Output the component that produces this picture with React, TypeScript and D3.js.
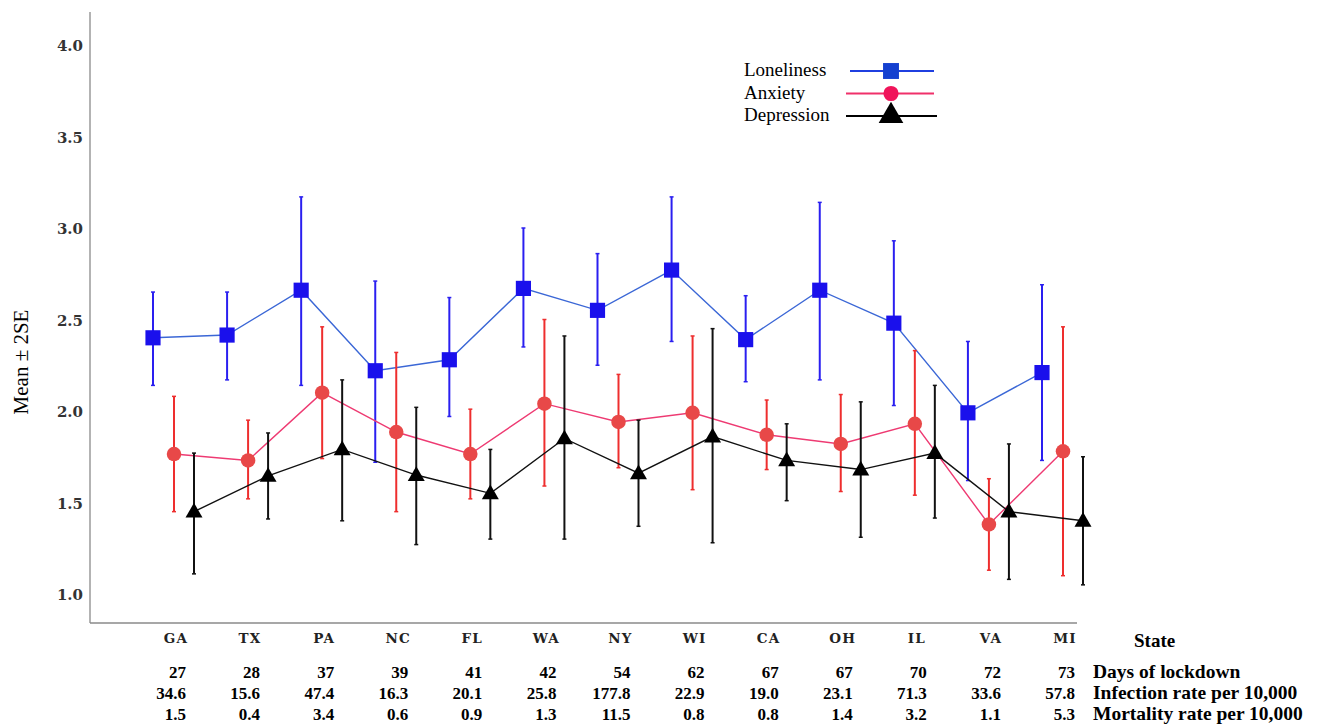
import React, { useRef, useEffect } from 'react';
import * as d3 from 'd3';

// chart values
const states = ['GA', 'TX', 'PA', 'NC', 'FL', 'WA', 'NY', 'WI', 'CA', 'OH', 'IL', 'VA', 'MI'];

const lonelinessMean = [2.40, 2.415, 2.66, 2.22, 2.28, 2.67, 2.55, 2.77, 2.39, 2.66, 2.48, 1.99, 2.21];
const lonelinessLo = [2.14, 2.17, 2.14, 1.72, 1.97, 2.35, 2.25, 2.38, 2.16, 2.17, 2.03, 1.62, 1.73];
const lonelinessHi = [2.65, 2.65, 3.17, 2.71, 2.62, 3.00, 2.86, 3.17, 2.63, 3.14, 2.93, 2.38, 2.69];

const anxietyMean = [1.765, 1.73, 2.10, 1.885, 1.765, 2.04, 1.94, 1.99, 1.87, 1.82, 1.93, 1.38, 1.78];
const anxietyLo = [1.45, 1.52, 1.74, 1.45, 1.52, 1.59, 1.69, 1.57, 1.68, 1.56, 1.54, 1.13, 1.10];
const anxietyHi = [2.08, 1.95, 2.46, 2.32, 2.01, 2.50, 2.20, 2.41, 2.06, 2.09, 2.33, 1.63, 2.46];

const depressionMean = [1.45, 1.645, 1.79, 1.65, 1.55, 1.85, 1.66, 1.86, 1.73, 1.68, 1.77, 1.45, 1.40];
const depressionLo = [1.11, 1.41, 1.40, 1.27, 1.30, 1.30, 1.37, 1.28, 1.51, 1.31, 1.415, 1.08, 1.05];
const depressionHi = [1.77, 1.88, 2.17, 2.02, 1.79, 2.41, 1.95, 2.45, 1.93, 2.05, 2.14, 1.82, 1.75];

const yTicks = ['1.0', '1.5', '2.0', '2.5', '3.0', '3.5', '4.0'];

const daysLockdown = ['27', '28', '37', '39', '41', '42', '54', '62', '67', '67', '70', '72', '73'];
const infectionRate = ['34.6', '15.6', '47.4', '16.3', '20.1', '25.8', '177.8', '22.9', '19.0', '23.1', '71.3', '33.6', '57.8'];
const mortalityRate = ['1.5', '0.4', '3.4', '0.6', '0.9', '1.3', '11.5', '0.8', '0.8', '1.4', '3.2', '1.1', '5.3'];
const rowLabels = ['Days of lockdown', 'Infection rate per 10,000', 'Mortality rate per 10,000'];

const W = 1317;
const H = 725;
const serif = '"Liberation Serif", "Times New Roman", serif';
const tickFont = '"DejaVu Serif", serif';

const Chart = () => {
    const svgRef = useRef(null);

    useEffect(() => {
        const svg = d3.select(svgRef.current);
        svg.selectAll('*').remove();

        const x = d3.scalePoint().domain(states).range([174, 1063]);
        const y = d3.scaleLinear().domain([1, 4]).range([594, 45]);

        // axes lines (no tick marks in the original)
        svg.append('line').attr('x1', 90).attr('x2', 90).attr('y1', 12).attr('y2', 623)
            .attr('stroke', '#8a8a8a').attr('stroke-width', 1.3);
        svg.append('line').attr('x1', 90).attr('x2', 1077).attr('y1', 623).attr('y2', 623)
            .attr('stroke', '#8a8a8a').attr('stroke-width', 1.3);

        svg.append('g').selectAll('text').data(yTicks).join('text')
            .attr('x', 83).attr('y', d => y(+d) + 6)
            .attr('text-anchor', 'end')
            .attr('font-family', tickFont).attr('font-weight', 'bold').attr('font-size', 15)
            .attr('fill', '#333')
            .text(d => d);

        svg.append('text')
            .attr('transform', 'translate(28,362) rotate(-90)')
            .attr('text-anchor', 'middle')
            .attr('font-family', serif).attr('font-size', 21)
            .text('Mean ± 2SE');

        const series = [
            { name: 'Loneliness', mean: lonelinessMean, lo: lonelinessLo, hi: lonelinessHi, dx: -21,
              line: '#3b67d6', bar: '#2a1ff0', fill: '#1a10ec', shape: 'square' },
            { name: 'Anxiety', mean: anxietyMean, lo: anxietyLo, hi: anxietyHi, dx: 0,
              line: '#ee3a72', bar: '#ee2e2e', fill: '#e84848', shape: 'circle' },
            { name: 'Depression', mean: depressionMean, lo: depressionLo, hi: depressionHi, dx: 20,
              line: '#111', bar: '#111', fill: '#000', shape: 'triangle' },
        ];

        const symbolFor = (shape) => {
            if (shape === 'square') return d3.symbol().type(d3.symbolSquare).size(230)();
            if (shape === 'circle') return d3.symbol().type(d3.symbolCircle).size(165)();
            return d3.symbol().type(d3.symbolTriangle).size(125)();
        };

        series.forEach(s => {
            const g = svg.append('g');
            const pts = states.map((st, i) => ({ x: x(st) + s.dx, m: s.mean[i], lo: s.lo[i], hi: s.hi[i] }));

            // error bars
            g.selectAll('line.err').data(pts).join('line')
                .attr('class', 'err')
                .attr('x1', d => d.x).attr('x2', d => d.x)
                .attr('y1', d => y(d.lo)).attr('y2', d => y(d.hi))
                .attr('stroke', s.bar).attr('stroke-width', 2);
            // tiny caps
            g.selectAll('line.capT').data(pts).join('line')
                .attr('class', 'capT')
                .attr('x1', d => d.x - 2).attr('x2', d => d.x + 2)
                .attr('y1', d => y(d.hi)).attr('y2', d => y(d.hi))
                .attr('stroke', s.bar).attr('stroke-width', 1.5);
            g.selectAll('line.capB').data(pts).join('line')
                .attr('class', 'capB')
                .attr('x1', d => d.x - 2).attr('x2', d => d.x + 2)
                .attr('y1', d => y(d.lo)).attr('y2', d => y(d.lo))
                .attr('stroke', s.bar).attr('stroke-width', 1.5);

            const line = d3.line().x(d => d.x).y(d => y(d.m));
            g.append('path').datum(pts).attr('d', line)
                .attr('fill', 'none').attr('stroke', s.line).attr('stroke-width', 1.4);

            g.selectAll('path.mk').data(pts).join('path')
                .attr('class', 'mk')
                .attr('d', symbolFor(s.shape))
                .attr('transform', d => `translate(${d.x},${y(d.m) + (s.shape === 'triangle' ? 1 : 0)})`)
                .attr('fill', s.fill);
        });

        // legend
        const legend = svg.append('g');
        series.forEach((s, i) => {
            const ly = 71 + i * 22.5;
            legend.append('text').attr('x', 744).attr('y', ly + 5)
                .attr('font-family', serif).attr('font-size', 19).text(s.name);
            legend.append('line').attr('x1', i === 0 ? 850 : 846).attr('x2', i === 2 ? 937 : 934)
                .attr('y1', ly).attr('y2', ly)
                .attr('stroke', i === 0 ? '#1f3fe0' : i === 1 ? '#f0306a' : '#000').attr('stroke-width', 2);
            legend.append('path').attr('d', symbolFor(s.shape))
                .attr('transform', `translate(891,${ly}) scale(${i === 2 ? 1.45 : 1.05})`)
                .attr('fill', i === 0 ? '#1440d0' : i === 1 ? '#f0145a' : '#000');
        });

        // state labels
        svg.append('g').selectAll('text').data(states).join('text')
            .attr('x', d => x(d) + 2).attr('y', 643)
            .attr('text-anchor', 'middle')
            .attr('font-family', tickFont).attr('font-weight', 'bold').attr('font-size', 13.5)
            .attr('letter-spacing', 1.2)
            .attr('fill', '#222')
            .text(d => d);
        svg.append('text').attr('x', 1134).attr('y', 647)
            .attr('font-family', serif).attr('font-weight', 'bold').attr('font-size', 19)
            .text('State');

        // table rows under the axis
        const rows = [daysLockdown, infectionRate, mortalityRate];
        rows.forEach((vals, r) => {
            const ry = 678 + r * 21;
            svg.append('g').selectAll('text').data(vals).join('text')
                .attr('x', (d, i) => x(states[i]) + 12).attr('y', ry)
                .attr('text-anchor', 'end')
                .attr('font-family', serif).attr('font-weight', 'bold').attr('font-size', 17)
                .text(d => d);
            svg.append('text').attr('x', 1093).attr('y', ry)
                .attr('font-family', serif).attr('font-weight', 'bold').attr('font-size', 19.5)
                .text(rowLabels[r]);
        });
    }, []);

    return <svg ref={svgRef} width={W} height={H} style={{ position: 'absolute', left: 0, top: 0, background: '#fff' }}></svg>;
};

export default function App() {
    return <Chart />;
}
